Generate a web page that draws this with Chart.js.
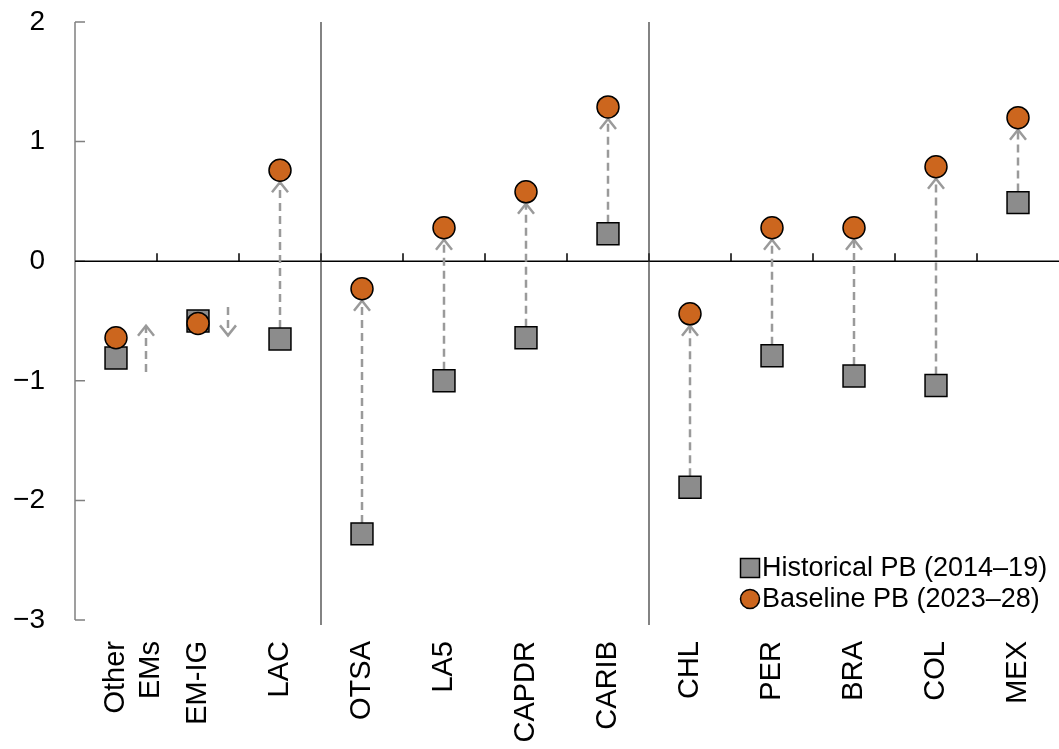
<!DOCTYPE html>
<html>
<head>
<meta charset="utf-8">
<script src="https://cdn.jsdelivr.net/npm/chart.js@4/dist/chart.umd.min.js"></script>
<style>
  html, body { margin: 0; padding: 0; background: #fff; overflow: hidden; }
  #wrap { width: 1059px; height: 749px; }
</style>
</head>
<body>
<div id="wrap"><canvas id="chart"></canvas></div>
<script>
// Categories and series (primary balance, % of GDP)
const categories = [['Other', 'EMs'], 'EM-IG', 'LAC', 'OTSA', 'LA5', 'CAPDR', 'CARIB', 'CHL', 'PER', 'BRA', 'COL', 'MEX'];
const historical = [-0.81, -0.50, -0.65, -2.28, -1.00, -0.64, 0.23, -1.89, -0.79, -0.96, -1.04, 0.49];
const baseline = [-0.64, -0.52, 0.76, -0.23, 0.28, 0.58, 1.29, -0.44, 0.28, 0.28, 0.79, 1.20];
const yTicks = [-3, -2, -1, 0, 1, 2];
const groupStarts = [3, 7]; // first category of each new group
const seriesNames = ['Historical PB (2014\u201319)', 'Baseline PB (2023\u201328)'];

const FONT = '"Liberation Sans", Arial, sans-serif';
const GREY = '#8c8c8c';
const ORANGE = '#cc661e';

// Draw axis, zero line, group separators and arrows
const decorations = {
  id: 'decorations',
  beforeDatasetsDraw(chart) {
    const { ctx, chartArea: a, scales: { x, y } } = chart;
    ctx.save();

    // y axis with inward ticks
    ctx.strokeStyle = '#808080';
    ctx.lineWidth = 1.5;
    ctx.beginPath();
    ctx.moveTo(a.left, a.top);
    ctx.lineTo(a.left, a.bottom);
    yTicks.forEach(v => {
      const py = y.getPixelForValue(v);
      ctx.moveTo(a.left, py);
      ctx.lineTo(a.left + 10, py);
    });
    ctx.stroke();

    // zero line with upward ticks between categories
    const y0 = y.getPixelForValue(0);
    ctx.strokeStyle = '#000';
    ctx.lineWidth = 1.5;
    ctx.beginPath();
    ctx.moveTo(a.left, y0);
    ctx.lineTo(a.right, y0);
    for (let i = 0; i < categories.length - 1; i++) {
      const px = (x.getPixelForValue(i) + x.getPixelForValue(i + 1)) / 2;
      ctx.moveTo(px, y0);
      ctx.lineTo(px, y0 - 8);
    }
    ctx.stroke();

    // group separators
    ctx.strokeStyle = '#333';
    ctx.lineWidth = 1.2;
    ctx.beginPath();
    groupStarts.forEach(i => {
      const px = (x.getPixelForValue(i - 1) + x.getPixelForValue(i)) / 2;
      ctx.moveTo(px, a.top);
      ctx.lineTo(px, a.bottom + 5);
    });
    ctx.stroke();

    // arrows from historical to baseline
    ctx.strokeStyle = '#9a9a9a';
    ctx.lineWidth = 2.5;
    historical.forEach((h, i) => {
      const b = baseline[i];
      const ph = y.getPixelForValue(h);
      const pb = y.getPixelForValue(b);
      const dir = pb < ph ? -1 : 1; // -1: upward on screen
      let px = x.getPixelForValue(i);
      let start, end;
      if (Math.abs(pb - ph) < 40) {
        px += 30;
        start = ph - dir * 14;
        end = pb + dir * 12;
      } else {
        start = ph + dir * 11;
        end = pb - dir * 12;
      }
      ctx.setLineDash([8, 5]);
      ctx.beginPath();
      ctx.moveTo(px, start);
      ctx.lineTo(px, end);
      ctx.stroke();
      ctx.setLineDash([]);
      ctx.beginPath();
      ctx.moveTo(px - 8, end - dir * 10);
      ctx.lineTo(px, end);
      ctx.lineTo(px + 8, end - dir * 10);
      ctx.stroke();
    });
    ctx.restore();
  },
  afterDatasetsDraw(chart) {
    // legend inside the plot, bottom right
    const { ctx } = chart;
    ctx.save();
    ctx.font = '27px ' + FONT;
    ctx.textBaseline = 'middle';
    ctx.textAlign = 'left';
    const lx = 750, ly = [568, 599];
    ctx.lineWidth = 1.5;
    ctx.strokeStyle = '#000';
    ctx.fillStyle = GREY;
    ctx.fillRect(lx - 9.5, ly[0] - 9.5, 19, 19);
    ctx.strokeRect(lx - 9.5, ly[0] - 9.5, 19, 19);
    ctx.fillStyle = ORANGE;
    ctx.beginPath();
    ctx.arc(lx, ly[1], 9.5, 0, Math.PI * 2);
    ctx.fill();
    ctx.stroke();
    ctx.fillStyle = '#000';
    ctx.fillText(seriesNames[0], lx + 12, ly[0] + 1);
    ctx.fillText(seriesNames[1], lx + 12, ly[1] + 1);
    ctx.restore();
  }
};

new Chart(document.getElementById('chart'), {
  type: 'line',
  data: {
    labels: categories,
    datasets: [
      {
        label: seriesNames[0],
        data: historical,
        order: 2,
        showLine: false,
        pointStyle: 'rect',
        pointRadius: 15.5,
        pointHoverRadius: 15.5,
        backgroundColor: GREY,
        borderColor: '#000',
        pointBorderWidth: 1.5
      },
      {
        label: seriesNames[1],
        data: baseline,
        order: 1,
        showLine: false,
        pointStyle: 'circle',
        pointRadius: 11,
        pointHoverRadius: 11,
        backgroundColor: ORANGE,
        borderColor: '#000',
        pointBorderWidth: 1.5
      }
    ]
  },
  options: {
    responsive: true,
    maintainAspectRatio: false,
    animation: false,
    layout: { autoPadding: false, padding: { top: 22, right: 0, left: 0, bottom: 0 } },
    plugins: {
      legend: { display: false },
      tooltip: { enabled: false }
    },
    scales: {
      x: {
        offset: true,
        grid: { display: false },
        border: { display: false },
        ticks: {
          color: '#000',
          font: { family: FONT, size: 29 },
          minRotation: 90,
          maxRotation: 90,
          autoSkip: false,
          padding: 13
        },
        afterFit(scale) {
          scale.height = 129;
          scale.paddingLeft = 0;
          scale.paddingRight = 0;
        }
      },
      y: {
        min: -3,
        max: 2,
        grid: { display: false },
        border: { display: false },
        afterBuildTicks(scale) { scale.ticks = yTicks.map(v => ({ value: v })); },
        ticks: {
          color: '#000',
          font: { family: FONT, size: 28 },
          padding: 22,
          callback: v => String(v).replace('-', '\u2212')
        },
        afterFit(scale) {
          scale.width = 75;
          scale.paddingTop = 0;
          scale.paddingBottom = 0;
        }
      }
    }
  },
  plugins: [decorations]
});
</script>
</body>
</html>
